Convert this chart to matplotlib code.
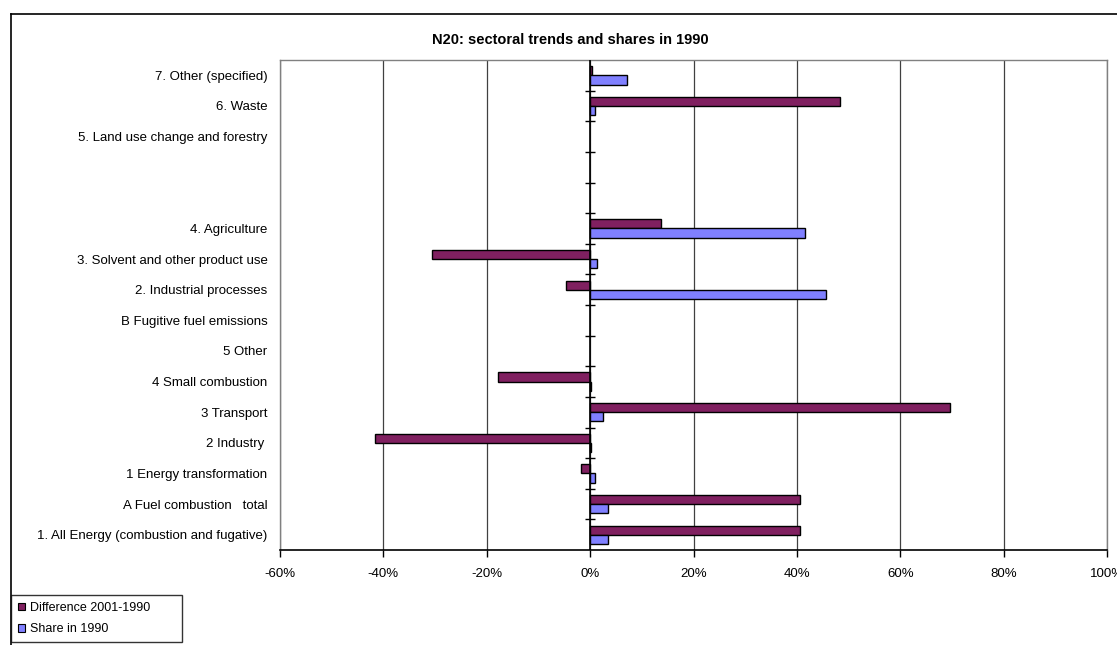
import numpy as np
import matplotlib
matplotlib.use("Agg")
import matplotlib.pyplot as plt
from matplotlib.patches import Patch
from matplotlib.lines import Line2D
from matplotlib.ticker import FuncFormatter

plt.rcParams['font.family'] = ['Liberation Sans', 'DejaVu Sans']

# ----- DATA (bottom to top, in %)
categories = [
    "1. All Energy (combustion and fugative)",
    "A Fuel combustion   total",
    "1 Energy transformation",
    "2 Industry ",
    "3 Transport",
    "4 Small combustion",
    "5 Other",
    "B Fugitive fuel emissions",
    "2. Industrial processes",
    "3. Solvent and other product use",
    "4. Agriculture",
    "",
    "",
    "5. Land use change and forestry",
    "6. Waste",
    "7. Other (specified)",
]
difference = [40.6, 40.6, -1.8, -41.6, 69.6, -17.9, np.nan, np.nan,
              -4.7, -30.6, 13.8, np.nan, np.nan, np.nan, 48.3, 0.4]
share_1990 = [3.5, 3.5, 1.0, 0.2, 2.4, 0.2, np.nan, np.nan,
              45.6, 1.4, 41.5, np.nan, np.nan, np.nan, 1.0, 7.2]
x_ticks = [-60, -40, -20, 0, 20, 40, 60, 80, 100]

diff_color = "#802060"
share_color = "#8080FF"

# ----- FIGURE
fig = plt.figure(figsize=(11.17, 6.45), dpi=100)
ax = fig.add_axes([280 / 1117, 1 - 550 / 645, 827 / 1117, 490 / 645])

y = np.arange(len(categories)) + 0.5
bar_h = 0.3
ax.barh(y + bar_h / 2, difference, height=bar_h, color=diff_color,
        edgecolor="black", linewidth=1, zorder=3, label="Difference 2001-1990")
ax.barh(y - bar_h / 2, share_1990, height=bar_h, color=share_color,
        edgecolor="black", linewidth=1, zorder=3, label="Share in 1990")

ax.set_xlim(-60, 100)
ax.set_ylim(0, len(categories))

# x axis
ax.set_xticks(x_ticks)
ax.xaxis.set_major_formatter(FuncFormatter(lambda v, p: f"{v:.0f}%"))
ax.tick_params(axis="x", direction="out", length=5, width=1, pad=8,
               labelsize=9.5, colors="black")
ax.grid(axis="x", color="#404040", linewidth=0.9, zorder=0)

# y axis: labels at category centres, left of plot area
ax.set_yticks(y)
ax.set_yticklabels(categories)
ax.tick_params(axis="y", length=0, pad=9, labelsize=9.5)

# vertical axis line at 0 with boundary ticks
ax.axvline(0, color="black", linewidth=1.2, zorder=4)
tick_half = 5 * 160 / 827
ax.hlines(np.arange(1, len(categories)), -tick_half, tick_half,
          color="black", linewidth=1, zorder=4)

for side in ["top", "left", "right"]:
    ax.spines[side].set_color("#808080")
    ax.spines[side].set_linewidth(1)
ax.spines["bottom"].set_color("black")
ax.spines["bottom"].set_linewidth(1.2)

# title
fig.text(570 / 1117, 1 - 40 / 645, "N20: sectoral trends and shares in 1990",
         ha="center", va="center", fontsize=10.5, fontweight="bold")

# outer chart border
fig.add_artist(Line2D([11 / 1117, 1.01], [1 - 14 / 645, 1 - 14 / 645],
                      color="black", linewidth=1.2))
fig.add_artist(Line2D([11 / 1117, 11 / 1117], [1 - 14 / 645, -0.01],
                      color="black", linewidth=1.2))

# legend
handles = [Patch(facecolor=diff_color, edgecolor="black", linewidth=0.8),
           Patch(facecolor=share_color, edgecolor="black", linewidth=0.8)]
leg = fig.legend(handles, ["Difference 2001-1990", "Share in 1990"],
                 loc="upper left",
                 bbox_to_anchor=(11 / 1117, 1 - 595 / 645, 171 / 1117, 0),
                 mode="expand",
                 fontsize=9, frameon=True, fancybox=False, borderaxespad=0,
                 handlelength=0.6, handleheight=0.6, handletextpad=0.35,
                 labelspacing=0.75, borderpad=0.55)
leg.get_frame().set_edgecolor("black")
leg.get_frame().set_linewidth(1)

fig.savefig("out.png", dpi=100)
